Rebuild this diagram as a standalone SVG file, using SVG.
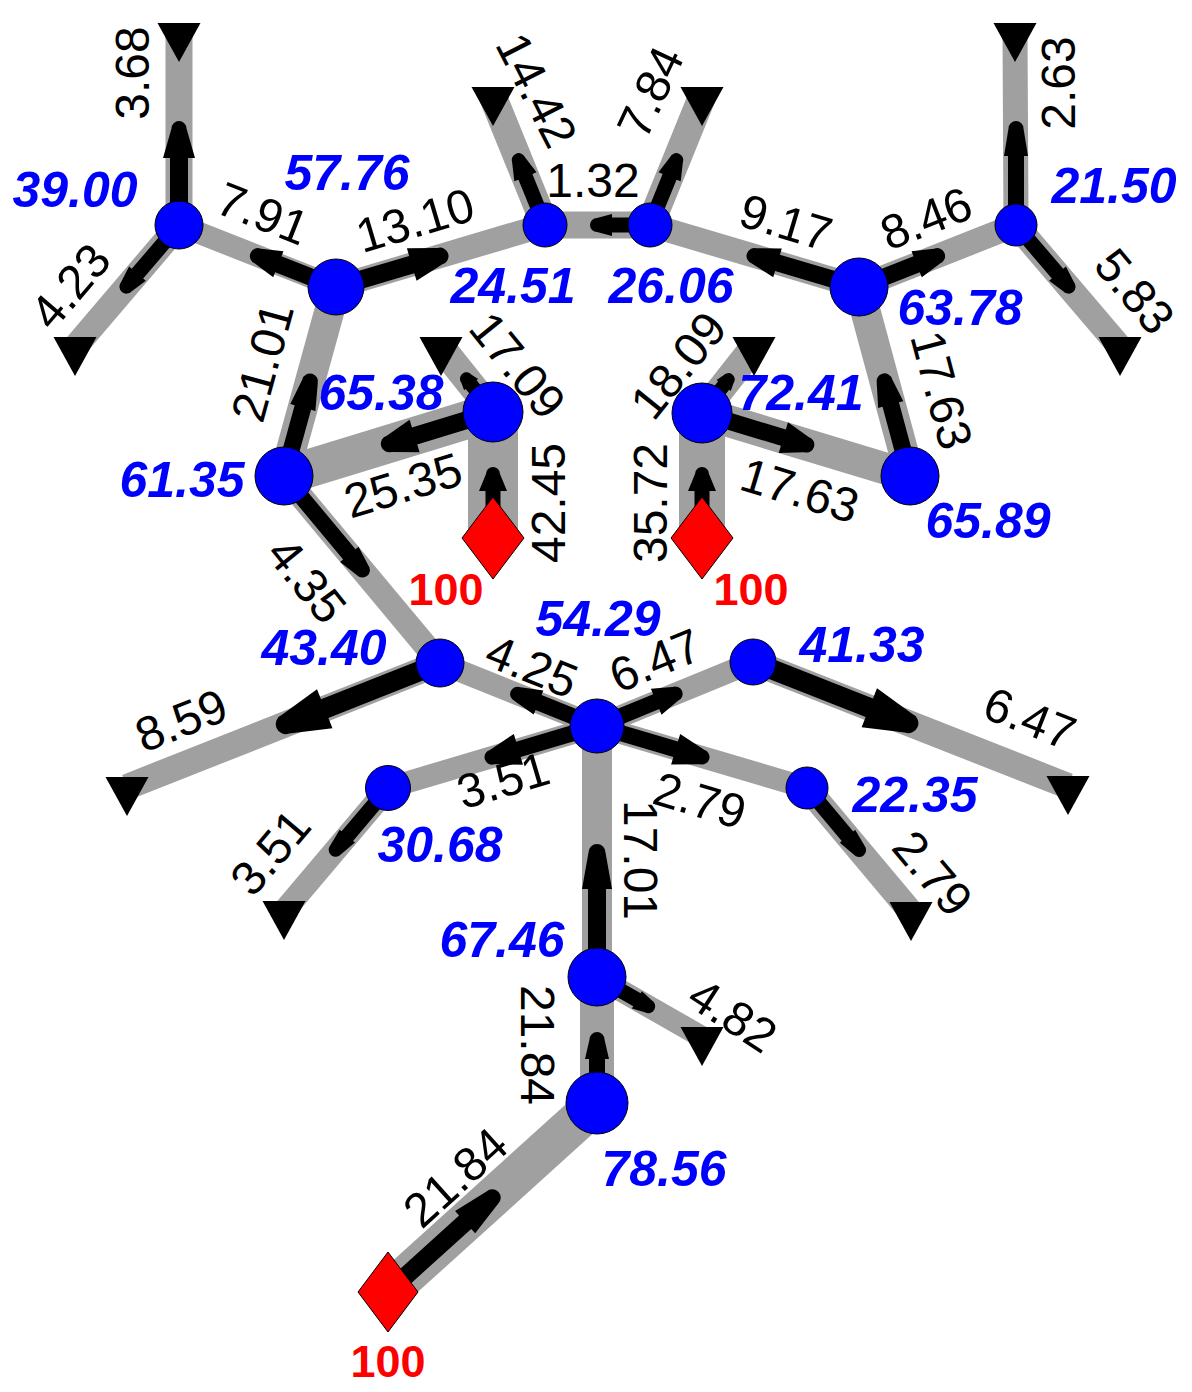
<svg xmlns="http://www.w3.org/2000/svg" width="1192" height="1392" viewBox="0 0 1192 1392">
<style>
.pipe{stroke:#a0a0a0;fill:none;stroke-linecap:butt}
.arr{fill:#000}
.node{fill:#0000ff;stroke:#000;stroke-width:1}
.src{fill:#ff0000;stroke:#000;stroke-width:1}
.sink{fill:#000}
.fl{font-family:"Liberation Sans",Arial,Helvetica,sans-serif;font-size:48px;fill:#000;text-anchor:middle}
.nv{font-family:"Liberation Sans",Arial,Helvetica,sans-serif;font-size:50px;font-weight:bold;font-style:italic;fill:#0000ff;text-anchor:middle}
.sv{font-family:"Liberation Sans",Arial,Helvetica,sans-serif;font-size:45px;font-weight:bold;fill:#ff0000;text-anchor:middle}
</style>
<rect width="1192" height="1392" fill="#fff"/>
<g id="connectors">
<g id="pipes">
<line class="pipe" x1="179" y1="225" x2="179" y2="33" stroke-width="27"/>
<line class="pipe" x1="179" y1="225" x2="75" y2="347" stroke-width="25"/>
<line class="pipe" x1="336" y1="287" x2="179" y2="225" stroke-width="22"/>
<line class="pipe" x1="336" y1="287" x2="545" y2="225" stroke-width="24"/>
<line class="pipe" x1="545" y1="225" x2="493" y2="97" stroke-width="28"/>
<line class="pipe" x1="650" y1="225" x2="545" y2="225" stroke-width="27"/>
<line class="pipe" x1="650" y1="225" x2="702" y2="97" stroke-width="28"/>
<line class="pipe" x1="859" y1="287" x2="650" y2="225" stroke-width="24"/>
<line class="pipe" x1="859" y1="287" x2="1016" y2="225" stroke-width="24"/>
<line class="pipe" x1="1016" y1="225" x2="1015" y2="33" stroke-width="25"/>
<line class="pipe" x1="1016" y1="225" x2="1120" y2="347" stroke-width="25"/>
<line class="pipe" x1="284" y1="476" x2="336" y2="287" stroke-width="30"/>
<line class="pipe" x1="493" y1="412" x2="284" y2="476" stroke-width="38"/>
<line class="pipe" x1="493" y1="412" x2="441" y2="347" stroke-width="28"/>
<line class="pipe" x1="493" y1="538" x2="493" y2="412" stroke-width="50"/>
<line class="pipe" x1="702" y1="538" x2="702" y2="413" stroke-width="46"/>
<line class="pipe" x1="702" y1="413" x2="754" y2="347" stroke-width="28"/>
<line class="pipe" x1="702" y1="413" x2="910" y2="476" stroke-width="32"/>
<line class="pipe" x1="910" y1="476" x2="859" y2="287" stroke-width="30"/>
<line class="pipe" x1="284" y1="476" x2="440" y2="663" stroke-width="24"/>
<line class="pipe" x1="597" y1="726" x2="440" y2="663" stroke-width="22"/>
<line class="pipe" x1="440" y1="663" x2="127" y2="787" stroke-width="26"/>
<line class="pipe" x1="597" y1="726" x2="753" y2="662" stroke-width="22"/>
<line class="pipe" x1="753" y1="662" x2="1068" y2="786" stroke-width="26"/>
<line class="pipe" x1="597" y1="726" x2="388" y2="788" stroke-width="22"/>
<line class="pipe" x1="388" y1="788" x2="284" y2="911" stroke-width="23"/>
<line class="pipe" x1="597" y1="726" x2="807" y2="788" stroke-width="22"/>
<line class="pipe" x1="807" y1="788" x2="911" y2="912" stroke-width="25"/>
<line class="pipe" x1="597" y1="977" x2="597" y2="726" stroke-width="30"/>
<line class="pipe" x1="597" y1="977" x2="702" y2="1037" stroke-width="22"/>
<line class="pipe" x1="597" y1="1103" x2="597" y2="977" stroke-width="34"/>
<line class="pipe" x1="388" y1="1292" x2="597" y2="1103" stroke-width="40"/>
</g>
<g id="arrows" class="arr">
<path transform="translate(179,225) rotate(-90)" d="M0,-9H67V-16L96.5,-7.5A7.5,7.5 0 0 1 96.5,7.5L67,16V9H0Z"/>
<path transform="translate(179,225) rotate(130.45)" d="M0,-7.5H64V-11L81,-7A7,7 0 0 1 81,7L64,11V7.5H0Z"/>
<path transform="translate(336,287) rotate(201.55)" d="M0,-8.5H62V-14L84,-8A8,8 0 0 1 84,8L62,14V8.5H0Z"/>
<path transform="translate(336,287) rotate(-16.52)" d="M0,-9H79V-17L108.5,-8.5A8.5,8.5 0 0 1 108.5,8.5L79,17V9H0Z"/>
<path transform="translate(545,225) rotate(-112.1)" d="M0,-7.5H52V-12L70,-7A7,7 0 0 1 70,7L52,12V7.5H0Z"/>
<path transform="translate(650,225) rotate(180)" d="M0,-7.5H38V-11L53,-7A7,7 0 0 1 53,7L38,11V7.5H0Z"/>
<path transform="translate(650,225) rotate(-67.9)" d="M0,-7.5H52V-12L70,-7A7,7 0 0 1 70,7L52,12V7.5H0Z"/>
<path transform="translate(859,287) rotate(196.52)" d="M0,-8.5H85V-15L109,-8A8,8 0 0 1 109,8L85,15V8.5H0Z"/>
<path transform="translate(859,287) rotate(-21.55)" d="M0,-8.5H62V-14L84,-8A8,8 0 0 1 84,8L62,14V8.5H0Z"/>
<path transform="translate(1016,225) rotate(-90)" d="M0,-8H69V-12L96.5,-7.5A7.5,7.5 0 0 1 96.5,7.5L69,12V8H0Z"/>
<path transform="translate(1016,225) rotate(49.55)" d="M0,-7.5H64V-11L81,-7A7,7 0 0 1 81,7L64,11V7.5H0Z"/>
<path transform="translate(284,476) rotate(-74.6)" d="M0,-8.5H71V-13L98,-8A8,8 0 0 1 98,8L71,13V8.5H0Z"/>
<path transform="translate(493,412) rotate(162.97)" d="M0,-9H82V-17L108.5,-8.5A8.5,8.5 0 0 1 108.5,8.5L82,17V9H0Z"/>
<path transform="translate(493,412) rotate(-128.66)" d="M0,-7H35V-9L42.5,-6.5A6.5,6.5 0 0 1 42.5,6.5L35,9V7H0Z"/>
<path transform="translate(493,538) rotate(-90)" d="M0,-7.5H47V-14L64,-7A7,7 0 0 1 64,7L47,14V7.5H0Z"/>
<path transform="translate(702,538) rotate(-90)" d="M0,-7.5H47V-14L64,-7A7,7 0 0 1 64,7L47,14V7.5H0Z"/>
<path transform="translate(702,413) rotate(-51.8)" d="M0,-7H35V-9L42.5,-6.5A6.5,6.5 0 0 1 42.5,6.5L35,9V7H0Z"/>
<path transform="translate(702,413) rotate(16.85)" d="M0,-8.5H85V-16L109,-8A8,8 0 0 1 109,8L85,16V8.5H0Z"/>
<path transform="translate(910,476) rotate(-105.1)" d="M0,-8.5H74V-13L98,-8A8,8 0 0 1 98,8L74,13V8.5H0Z"/>
<path transform="translate(284,476) rotate(50.17)" d="M0,-8H102V-12L122.5,-7.5A7.5,7.5 0 0 1 122.5,7.5L102,12V8H0Z"/>
<path transform="translate(597,726) rotate(201.86)" d="M0,-8H63V-13L85.5,-7.5A7.5,7.5 0 0 1 85.5,7.5L63,13V8H0Z"/>
<path transform="translate(440,663) rotate(158.39)" d="M0,-10H124V-21L166,-10A10,10 0 0 1 166,10L124,21V10H0Z"/>
<path transform="translate(597,726) rotate(-22.31)" d="M0,-8H64V-14L84.5,-7.5A7.5,7.5 0 0 1 84.5,7.5L64,14V8H0Z"/>
<path transform="translate(753,662) rotate(21.48)" d="M0,-10H125V-21L167,-10A10,10 0 0 1 167,10L125,21V10H0Z"/>
<path transform="translate(597,726) rotate(163.48)" d="M0,-8H82V-16L109.5,-7.5A7.5,7.5 0 0 1 109.5,7.5L82,16V8H0Z"/>
<path transform="translate(388,788) rotate(130.22)" d="M0,-7.5H63V-10L81,-7A7,7 0 0 1 81,7L63,10V7.5H0Z"/>
<path transform="translate(597,726) rotate(16.45)" d="M0,-8H82V-16L109.5,-7.5A7.5,7.5 0 0 1 109.5,7.5L82,16V8H0Z"/>
<path transform="translate(807,788) rotate(50)" d="M0,-7.5H63V-10L81,-7A7,7 0 0 1 81,7L63,10V7.5H0Z"/>
<path transform="translate(597,977) rotate(-90)" d="M0,-9H88V-15L124.5,-8.5A8.5,8.5 0 0 1 124.5,8.5L88,15V9H0Z"/>
<path transform="translate(597,977) rotate(29.74)" d="M0,-7.5H46V-10L59,-7A7,7 0 0 1 59,7L46,10V7.5H0Z"/>
<path transform="translate(597,1103) rotate(-90)" d="M0,-8H44V-12L63.5,-7.5A7.5,7.5 0 0 1 63.5,7.5L44,12V8H0Z"/>
<path transform="translate(388,1292) rotate(-42.12)" d="M0,-9H104V-15L140.5,-8.5A8.5,8.5 0 0 1 140.5,8.5L104,15V9H0Z"/>
</g>
<g id="flow-labels" class="fl">
<text transform="translate(132,73) rotate(-90)" y="17">3.68</text>
<text transform="translate(70,286) rotate(-49.5)" y="17">4.23</text>
<text transform="translate(263,213) rotate(21.5)" y="17">7.91</text>
<text transform="translate(415,220) rotate(-16.5)" y="17">13.10</text>
<text transform="translate(537,90) rotate(63)" y="17">14.42</text>
<text transform="translate(593,180)" y="17">1.32</text>
<text transform="translate(650,92) rotate(-65)" y="17">7.84</text>
<text transform="translate(786,222) rotate(16.5)" y="17">9.17</text>
<text transform="translate(926,218) rotate(-21.5)" y="17">8.46</text>
<text transform="translate(1058,83) rotate(-90)" y="17">2.63</text>
<text transform="translate(1135,291) rotate(50)" y="17">5.83</text>
<text transform="translate(262,362) rotate(-74.6)" y="17">21.01</text>
<text transform="translate(518,365) rotate(51)" y="17">17.09</text>
<text transform="translate(678,365) rotate(-51)" y="17">18.09</text>
<text transform="translate(403,485) rotate(-17)" y="17">25.35</text>
<text transform="translate(548,503) rotate(-90)" y="17">42.45</text>
<text transform="translate(650,503) rotate(-90)" y="17">35.72</text>
<text transform="translate(800,490) rotate(16.8)" y="17">17.63</text>
<text transform="translate(942,390) rotate(75)" y="17">17.63</text>
<text transform="translate(307,580) rotate(51)" y="17">4.35</text>
<text transform="translate(532,666) rotate(21.9)" y="17">4.25</text>
<text transform="translate(655,660) rotate(-22.3)" y="17">6.47</text>
<text transform="translate(181,720) rotate(-21.6)" y="17">8.59</text>
<text transform="translate(1030,718) rotate(21.5)" y="17">6.47</text>
<text transform="translate(503,780) rotate(-16.5)" y="17">3.51</text>
<text transform="translate(700,800) rotate(16.5)" y="17">2.79</text>
<text transform="translate(270,852) rotate(-49.8)" y="17">3.51</text>
<text transform="translate(933,873) rotate(50)" y="17">2.79</text>
<text transform="translate(641,860) rotate(90)" y="17">17.01</text>
<text transform="translate(733,1015) rotate(33)" y="17">4.82</text>
<text transform="translate(538,1045) rotate(90)" y="17">21.84</text>
<text transform="translate(455,1177) rotate(-42.1)" y="17">21.84</text>
</g>
</g>
<g id="sinks" class="sink">
<polygon id="sink1" points="157.5,23 200.5,23 179,62"/>
<polygon id="sink2" points="53.5,337 96.5,337 75,376"/>
<polygon id="sink3" points="471.5,87 514.5,87 493,126"/>
<polygon id="sink4" points="680.5,87 723.5,87 702,126"/>
<polygon id="sink5" points="993.5,23 1036.5,23 1015,62"/>
<polygon id="sink6" points="1098.5,337 1141.5,337 1120,376"/>
<polygon id="sink7" points="419.5,337 462.5,337 441,376"/>
<polygon id="sink8" points="732.5,337 775.5,337 754,376"/>
<polygon id="sink9" points="105.5,777 148.5,777 127,816"/>
<polygon id="sink10" points="262.5,901 305.5,901 284,940"/>
<polygon id="sink11" points="1046.5,776 1089.5,776 1068,815"/>
<polygon id="sink12" points="889.5,902 932.5,902 911,941"/>
<polygon id="sink13" points="680.5,1027 723.5,1027 702,1066"/>
</g>
<g id="src1"><polygon class="src" points="493,497 524,538 493,579 462,538"/><text class="sv" x="446" y="605">100</text></g>
<g id="src2"><polygon class="src" points="702,497 733,538 702,579 671,538"/><text class="sv" x="751" y="605">100</text></g>
<g id="src3"><polygon class="src" points="388,1252 418,1292 388,1332 358,1292"/><text class="sv" x="388" y="1377">100</text></g>
<g id="nA"><circle class="node" cx="179" cy="225" r="24"/><text class="nv" x="75" y="207">39.00</text></g>
<g id="nB"><circle class="node" cx="336" cy="287" r="28"/><text class="nv" x="347" y="190">57.76</text></g>
<g id="nC"><circle class="node" cx="545" cy="225" r="22"/><text class="nv" x="513" y="303">24.51</text></g>
<g id="nD"><circle class="node" cx="650" cy="225" r="22"/><text class="nv" x="671" y="303">26.06</text></g>
<g id="nE"><circle class="node" cx="859" cy="287" r="29"/><text class="nv" x="960" y="325">63.78</text></g>
<g id="nF"><circle class="node" cx="1016" cy="225" r="21"/><text class="nv" x="1114" y="203">21.50</text></g>
<g id="nG"><circle class="node" cx="493" cy="412" r="30"/><text class="nv" x="381" y="410">65.38</text></g>
<g id="nH"><circle class="node" cx="702" cy="413" r="30"/><text class="nv" x="801" y="410">72.41</text></g>
<g id="nI"><circle class="node" cx="284" cy="476" r="29"/><text class="nv" x="182" y="497">61.35</text></g>
<g id="nJ"><circle class="node" cx="910" cy="476" r="29"/><text class="nv" x="988" y="538">65.89</text></g>
<g id="nK"><circle class="node" cx="440" cy="663" r="24"/><text class="nv" x="324" y="665">43.40</text></g>
<g id="nL"><circle class="node" cx="597" cy="726" r="27"/><text class="nv" x="598" y="636">54.29</text></g>
<g id="nM"><circle class="node" cx="753" cy="662" r="23"/><text class="nv" x="862" y="662">41.33</text></g>
<g id="nN"><circle class="node" cx="388" cy="788" r="22.5"/><text class="nv" x="440" y="862">30.68</text></g>
<g id="nO"><circle class="node" cx="807" cy="788" r="21"/><text class="nv" x="915" y="812">22.35</text></g>
<g id="nP"><circle class="node" cx="597" cy="977" r="29"/><text class="nv" x="502" y="957">67.46</text></g>
<g id="nQ"><circle class="node" cx="597" cy="1103" r="31"/><text class="nv" x="664" y="1186">78.56</text></g>
</svg>
